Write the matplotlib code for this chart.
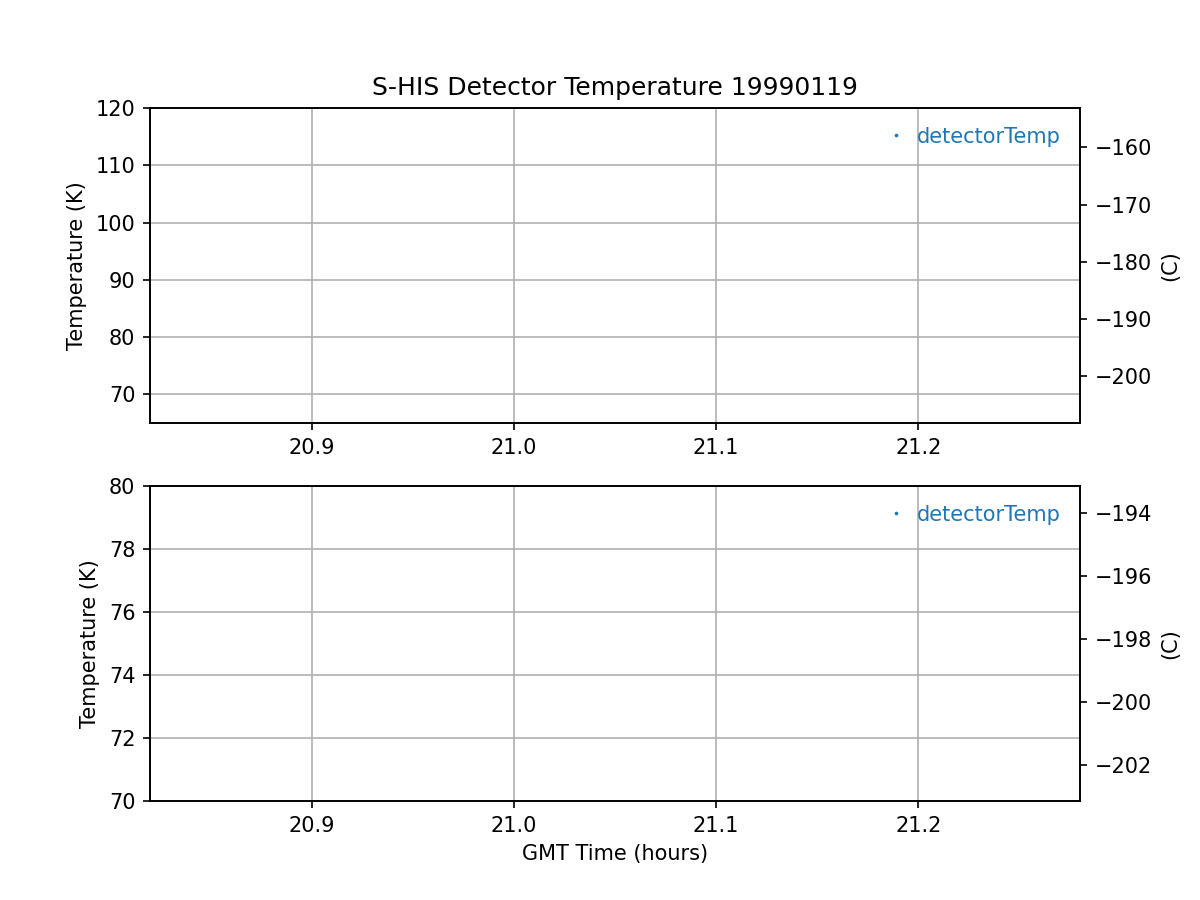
import numpy as np
import matplotlib
matplotlib.use('Agg')
import matplotlib.pyplot as plt

# GMT hours and detector temperature (K); no valid readings shown in this date
gmt_hours = [20.84, 20.95, 21.05, 21.15, 21.26]
detector_temp = [np.nan, np.nan, np.nan, np.nan, np.nan]

fecha = '19990119'
xlim = (20.82, 21.28)
ylim_arriba = (65, 120)
ylim_abajo = (70, 80)
K0 = 273.15

fig, (ax1, ax2) = plt.subplots(2, 1, figsize=(8, 6), dpi=150)

for ax, ylim in [(ax1, ylim_arriba), (ax2, ylim_abajo)]:
    ax.plot(gmt_hours, detector_temp, '.', markersize=1.5, color='tab:blue', label='detectorTemp')
    ax.set_xlim(xlim)
    ax.set_ylim(ylim)
    ax.set_ylabel('Temperature (K)')
    ax.grid(True)
    ax.legend(loc='upper right', frameon=False, labelcolor='linecolor',
              handlelength=0.5, handletextpad=0.8)
    axc = ax.twinx()
    axc.set_ylim(ylim[0] - K0, ylim[1] - K0)
    axc.set_ylabel('(C)')

ax1.set_title('S-HIS Detector Temperature ' + fecha)
ax2.set_xlabel('GMT Time (hours)')

plt.savefig('out.png')
